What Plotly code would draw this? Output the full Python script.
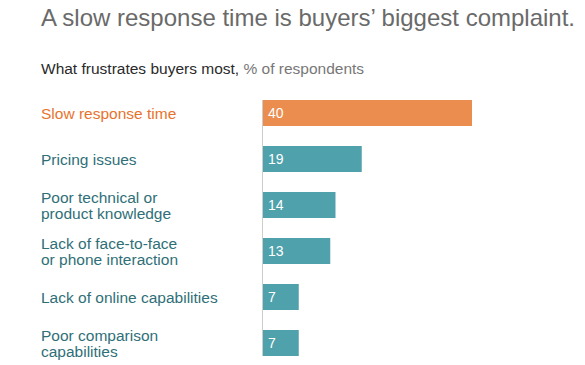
import plotly.graph_objects as go

categories = ["Slow response time", "Pricing issues", "Poor technical or<br>product knowledge",
              "Lack of face-to-face<br>or phone interaction", "Lack of online capabilities",
              "Poor comparison<br>capabilities"]
values = [40, 19, 14, 13, 7, 7]
highlight = [True, False, False, False, False, False]

ORANGE = "#EA8D4F"
TEAL = "#4FA1AB"
ORANGE_TXT = "#E8732E"
TEAL_TXT = "#2F6F77"
FONT = "Liberation Sans, Arial, sans-serif"

OFF = 8                      # page body margin
W, H = 585 - OFF, 365 - OFF  # figure size that fits the window
x0_px, ppu = 262 - OFF, 5.25
xmax = 60
top_px, step = 113 - OFF, 46
pos = list(range(len(categories)))
text_x = (41 - OFF - 2) / W

fig = go.Figure()
fig.add_trace(go.Bar(
    x=values, y=pos, orientation="h",
    marker=dict(color=[ORANGE if h else TEAL for h in highlight], line=dict(width=0)),
    width=26 / step, hoverinfo="skip",
))

for i, v in enumerate(values):
    fig.add_annotation(x=0, xref="x", y=i, yref="y", text=str(v), showarrow=False,
                       xanchor="left", yanchor="middle", xshift=4,
                       font=dict(size=14, color="white", family=FONT))

for i, (c, h) in enumerate(zip(categories, highlight)):
    lines = c.split("<br>")
    n = len(lines)
    for j, ln in enumerate(lines):
        fig.add_annotation(x=text_x, xref="paper", y=i, yref="y", text=ln, showarrow=False,
                           xanchor="left", yanchor="middle", yshift=-(j - (n - 1) / 2) * 16,
                           font=dict(size=15.5, color=ORANGE_TXT if h else TEAL_TXT, family=FONT))

fig.add_shape(type="line", xref="x", yref="y", x0=0, x1=0, y0=-13 / step, y1=len(pos) - 1 + 13 / step,
              line=dict(color="#CCCCCC", width=2), layer="above")

fig.add_annotation(x=text_x, xref="paper", y=1 - (17 - OFF) / H, yref="paper", yanchor="middle", xanchor="left",
                   text="A slow response time is buyers’ biggest complaint.", showarrow=False,
                   font=dict(size=24, color="#6A6A6A", family=FONT))
fig.add_annotation(x=text_x, xref="paper", y=1 - (68 - OFF) / H, yref="paper", yanchor="middle", xanchor="left",
                   text="<span style='color:#2A2A2A'>What frustrates buyers most,</span> "
                        "<span style='color:#777777'>% of respondents</span>",
                   showarrow=False, font=dict(size=15.5, family=FONT))

fig.update_layout(
    width=W, height=H, margin=dict(l=0, r=0, t=0, b=0),
    paper_bgcolor="white", plot_bgcolor="white", showlegend=False,
    xaxis=dict(domain=[x0_px / W, (x0_px + xmax * ppu) / W], range=[0, xmax], visible=False),
    yaxis=dict(domain=[0, 1], range=[(H - top_px) / step, -top_px / step], visible=False),
)
fig.write_html("out.html")
